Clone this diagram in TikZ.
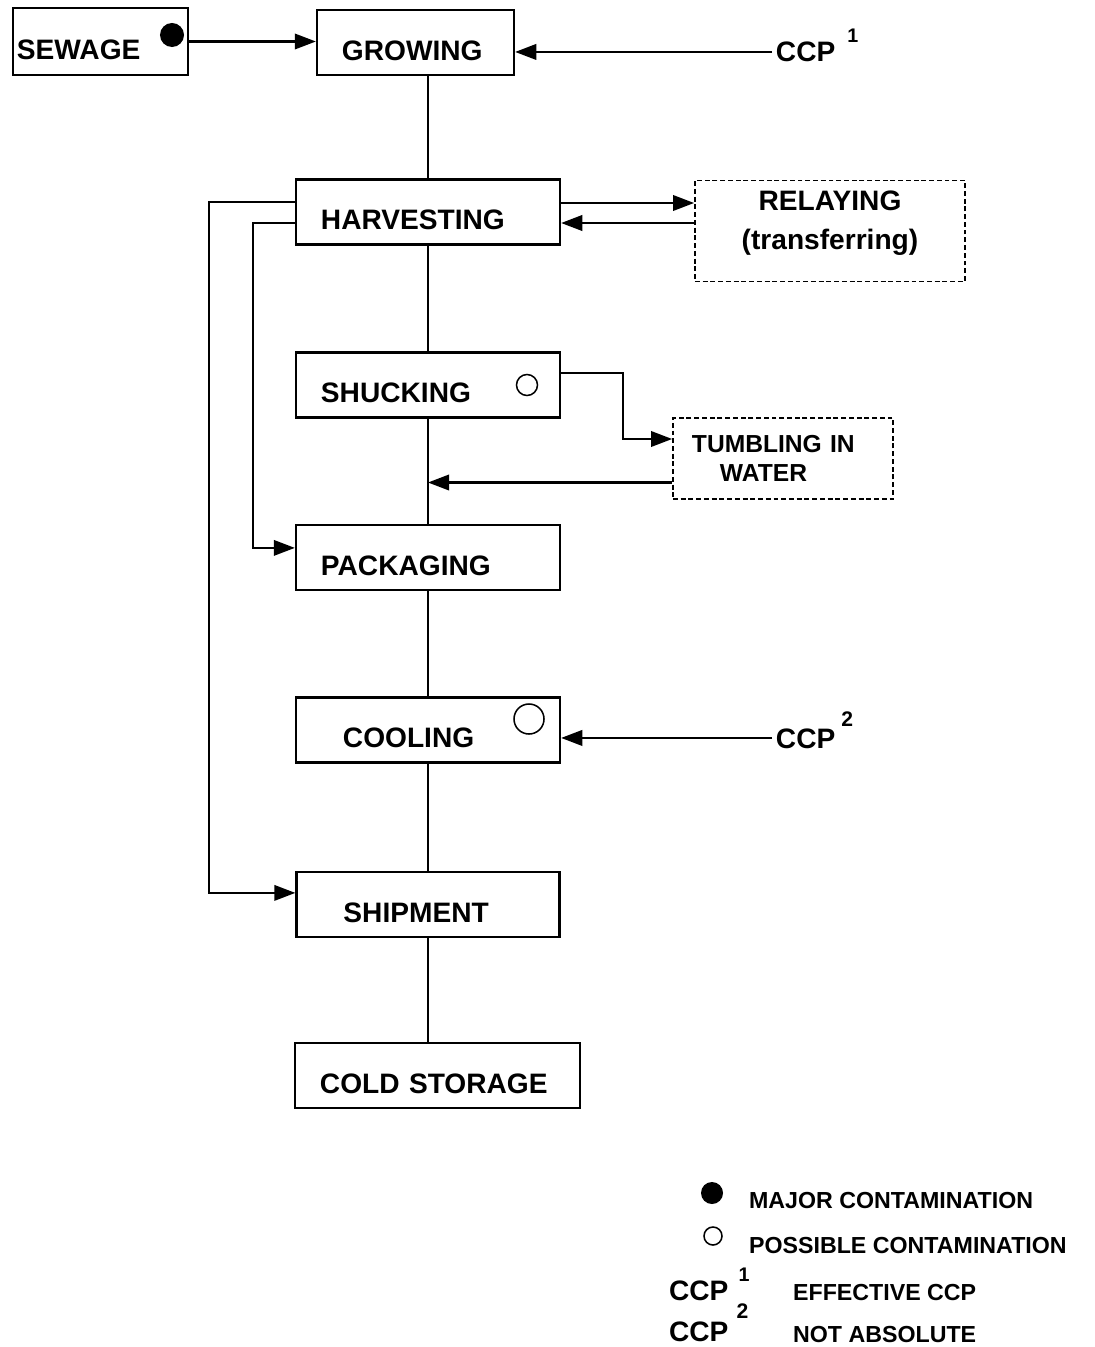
\documentclass[tikz,border=0pt]{standalone}
\usepackage{fontspec}
\setmainfont{Liberation Sans}
\usetikzlibrary{arrows.meta,positioning,calc}

\begin{document}
\begin{tikzpicture}[
      x=0.025cm, y=-0.025cm,
      font=\fontsize{20}{24}\selectfont\bfseries,
      line width=1.6pt,
      stage/.style={draw, line width=1.6pt, align=left, inner xsep=0.625cm,
        inner ysep=0pt, minimum height=1.625cm, text height=25pt, text depth=0pt},
      side/.style={draw, line width=1.2pt, dash pattern=on 3.5pt off 2pt},
      arr/.style={-{Triangle[length=15pt,width=11pt]}},
      bigdot/.style={circle, fill, inner sep=0pt, minimum size=0.6cm},
      ring/.style={circle, draw, line width=1.1pt, inner sep=0pt, minimum size=0.5cm},
      ccp/.style={anchor=base west, inner sep=2pt, text height=14.3pt, text depth=0pt},
      leg/.style={font=\fontsize{16.5}{20}\selectfont\bfseries, inner sep=0pt},
    ]
    \useasboundingbox (0,0) rectangle (1094,1347);

    % --- main flow ---
    \node[stage, text width=4.175cm, inner xsep=0.1cm, minimum height=1.675cm] (sewage) at (100.5,41.5) {SEWAGE};
    \node[stage, text width=3.675cm] (growing) at (415.5,42.5) {GROWING};
    \node[stage, text width=5.35cm] (harvesting) at (428,212) {HARVESTING};
    \node[stage, text width=5.35cm] (shucking) at (428,385) {SHUCKING};
    \node[stage, text width=5.35cm] (packaging) at (428,557.5) {PACKAGING};
    \node[stage, text width=5.35cm] (cooling) at (428,730) {\hspace*{0.55cm}COOLING};
    \node[stage, text width=5.325cm] (shipment) at (428,904.5) {\hspace*{0.55cm}SHIPMENT};
    \node[stage, text width=5.875cm] (coldstore) at (437.5,1075.5) {COLD STORAGE};

    \node[bigdot] (sewdot) at (172,35) {};
    \node[ring, minimum size=0.525cm] (shuckring) at (527,385) {};
    \node[ring, minimum size=0.75cm] (coolring) at (529,719) {};

    \draw (harvesting.north |- growing.south) -- (harvesting.north);
    \draw (harvesting) -- (shucking);
    \draw (shucking) -- (packaging);
    \draw (packaging) -- (cooling);
    \draw (cooling) -- (shipment);
    \draw (shipment.south) -- (shipment.south |- coldstore.north);
    \draw[arr] (sewage.east) -- (sewage.east -| growing.west);

    % --- side steps ---
    \node[side, align=center, font=\fontsize{20}{28}\selectfont\bfseries, text depth=15.5pt,
      minimum width=6.75cm, minimum height=2.525cm] (relaying) at (830,231)
      {RELAYING\\(transferring)};
    \node[side, align=left, font=\fontsize{17.5}{21}\selectfont\bfseries,
      text width=4.55cm, inner xsep=0.475cm, minimum height=2.025cm] (tumbling) at (783,458.5)
      {TUMBLING IN\\\hspace*{0.7cm}WATER};

    \draw[arr] ([yshift=0.225cm]harvesting.east) -- ([yshift=0.225cm]harvesting.east -| relaying.west);
    \draw[arr] ([yshift=-0.275cm]harvesting.east -| relaying.west) -- ([yshift=-0.275cm]harvesting.east);
    \coordinate (tumbin) at ([yshift=0.4875cm]tumbling.west);
    \draw[arr] ([yshift=0.3cm]shucking.east) -- ++(62,0) |- (tumbin);
    \draw[arr] ([yshift=-0.6cm]tumbling.west) -- ([yshift=-0.6cm]tumbling.west -| shucking.south);

    % --- bypass loops on the left ---
    \draw[arr] ([yshift=0.25cm]harvesting.west) -- ++(-86,0) |- ([yshift=0.29cm]shipment.west);
    \draw[arr] ([yshift=-0.275cm]harvesting.west) -- ++(-42,0) |- ([yshift=0.24cm]packaging.west);

    % --- control points ---
    \node[ccp] (ccpa) at (772,62) {CCP\hspace{0.3cm}\raisebox{14pt}{\fontsize{14}{14}\selectfont 1}};
    \node[ccp] (ccpb) at (772,748) {CCP\hspace{0.15cm}\raisebox{15pt}{\fontsize{15}{15}\selectfont 2}};
    \draw[arr] (ccpa.west) -- (ccpa.west -| growing.east);
    \draw[arr] (ccpb.west) -- (ccpb.west -| cooling.east);

    % --- legend ---
    \node[bigdot, minimum size=0.55cm] (legdot) at (712,1193) {};
    \node[leg, anchor=west] (legmajor) at (748,1200) {MAJOR CONTAMINATION};
    \node[ring, minimum size=0.45cm] (legring) at (713,1236) {};
    \node[leg, anchor=west] (legposs) at (748,1245) {POSSIBLE CONTAMINATION};
    \node[ccp, inner sep=0pt] (legccpa) at (668,1300) {CCP\hspace{0.25cm}\raisebox{13pt}{\fontsize{14}{14}\selectfont 1}};
    \node[leg, anchor=base west] (legeff) at (792,1300) {EFFECTIVE CCP};
    \node[ccp, inner sep=0pt] (legccpb) at (668,1341) {CCP\hspace{0.2cm}\raisebox{16pt}{\fontsize{15}{15}\selectfont 2}};
    \node[leg, anchor=base west] (legnot) at (792,1342) {NOT ABSOLUTE};
  \end{tikzpicture}
\end{document}
